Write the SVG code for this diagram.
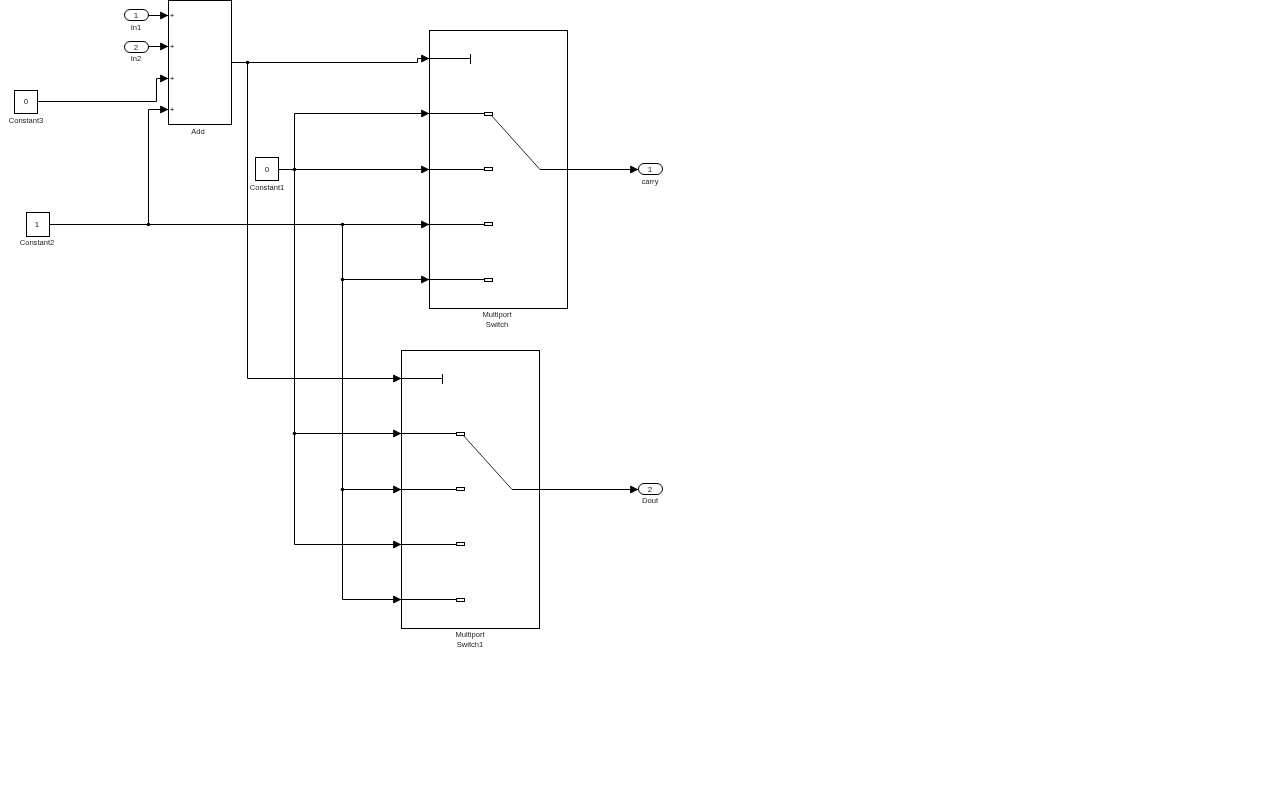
<svg xmlns="http://www.w3.org/2000/svg" width="1280" height="800" viewBox="0 0 1280 800">
<style>
.b{fill:#fff;stroke:#000;stroke-width:1}
.n{fill:none;stroke:#000;stroke-width:1}
.g{fill:none;stroke:#000;stroke-width:.85}
.c{fill:none;stroke:#000;stroke-width:1;marker-end:url(#a)}
.p{fill:#fff;stroke:#000;stroke-width:1}
.d{fill:#000}
text{font-family:"Liberation Sans",Arial,sans-serif;font-size:7.6px;fill:#222;text-anchor:middle;filter:url(#t)}
.v{font-size:8px}
.s{font-size:8px;fill:#000}
</style>
<defs>
<filter id="t" x="-20%" y="-20%" width="140%" height="140%"><feGaussianBlur stdDeviation="0.2"/></filter>
<marker id="a" markerUnits="userSpaceOnUse" markerWidth="10" markerHeight="10" refX="8" refY="4.500" orient="auto"><path d="M.5 1L7.500 4.500L.5 8Z" fill="#000" stroke="#000" stroke-width=".8"/></marker>
</defs>
<rect width="1280" height="800" fill="#fff"/>
<g id="add"><rect class="b" x="168.500" y="0.500" width="63" height="124"/>
<text class="s" x="172" y="18">+</text><text class="s" x="172" y="49">+</text><text class="s" x="172" y="81">+</text><text class="s" x="172" y="112">+</text>
<text x="198" y="134">Add</text></g>
<g id="in1"><rect class="b" x="124.500" y="9.500" width="24" height="11" rx="5.500"/><text class="v" x="136" y="18">1</text><text x="136" y="30">In1</text></g>
<g id="in2"><rect class="b" x="124.500" y="41.500" width="24" height="11" rx="5.500"/><text class="v" x="136" y="49.500">2</text><text x="136" y="60.500">In2</text></g>
<g id="constant3"><rect class="b" x="14.500" y="90.500" width="23" height="23"/><text class="v" x="26" y="104">0</text><text x="26" y="123">Constant3</text></g>
<g id="constant2"><rect class="b" x="26.500" y="212.500" width="23" height="24"/><text class="v" x="37" y="227">1</text><text x="37" y="245">Constant2</text></g>
<g id="constant1"><rect class="b" x="255.500" y="157.500" width="23" height="23"/><text class="v" x="267" y="172">0</text><text x="267" y="190">Constant1</text></g>
<g id="switch"><rect class="b" x="429.500" y="30.500" width="138" height="278"/>
<path class="n" d="M429.500 58.500H470.500M470.500 54V64M429.500 113.500H484.500M429.500 169.500H484.500M429.500 224.500H484.500M429.500 279.500H484.500"/>
<rect class="p" x="484.500" y="112.500" width="8" height="3"/><rect class="p" x="484.500" y="167.500" width="8" height="3"/><rect class="p" x="484.500" y="222.500" width="8" height="3"/><rect class="p" x="484.500" y="278.500" width="8" height="3"/>
<path class="g" d="M491 115L540 169.500"/>
<text x="497" y="317">Multiport</text><text x="497" y="327">Switch</text></g>
<g id="switch1"><rect class="b" x="401.500" y="350.500" width="138" height="278"/>
<path class="n" d="M401.500 378.500H442.500M442.500 374V384M401.500 433.500H456.500M401.500 489.500H456.500M401.500 544.500H456.500M401.500 599.500H456.500"/>
<rect class="p" x="456.500" y="432.500" width="8" height="3"/><rect class="p" x="456.500" y="487.500" width="8" height="3"/><rect class="p" x="456.500" y="542.500" width="8" height="3"/><rect class="p" x="456.500" y="598.500" width="8" height="3"/>
<path class="g" d="M463 435L512 489.500"/>
<text x="470" y="637">Multiport</text><text x="470" y="647">Switch1</text></g>
<g id="carry"><rect class="b" x="638.500" y="163.500" width="24" height="11" rx="5.500"/><text class="v" x="650" y="172">1</text><text x="650" y="184">carry</text></g>
<g id="dout"><rect class="b" x="638.500" y="483.500" width="24" height="11" rx="5.500"/><text class="v" x="650" y="492">2</text><text x="650" y="503">Dout</text></g>
<g id="connectors">
<path class="c" d="M148.500 15.500H168"/>
<path class="c" d="M148.500 46.500H168"/>
<path class="c" d="M37.500 101.500H156.500V78.500H168"/>
<path class="c" d="M148.500 224.500V109.500H168"/>
<path class="c" d="M231.500 62.500H417.500V58.500H429"/>
<path class="c" d="M247.500 62.500V378.500H401"/>
<path class="c" d="M294.500 169.500V113.500H429"/>
<path class="c" d="M278.500 169.500H429"/>
<path class="c" d="M294.500 169.500V433.500H401"/>
<path class="c" d="M294.500 433.500V544.500H401"/>
<path class="c" d="M49.500 224.500H429"/>
<path class="c" d="M342.500 224.500V279.500H429"/>
<path class="c" d="M342.500 279.500V489.500H401"/>
<path class="c" d="M342.500 489.500V599.500H401"/>
<path class="c" d="M540 169.500H638"/>
<path class="c" d="M512 489.500H638"/>
<circle class="d" cx="148.500" cy="224.500" r="1.800"/><circle class="d" cx="247.500" cy="62.500" r="1.800"/><circle class="d" cx="294.500" cy="169.500" r="1.800"/><circle class="d" cx="342.500" cy="224.500" r="1.800"/><circle class="d" cx="342.500" cy="279.500" r="1.800"/><circle class="d" cx="294.500" cy="433.500" r="1.800"/><circle class="d" cx="342.500" cy="489.500" r="1.800"/>
</g>
</svg>
